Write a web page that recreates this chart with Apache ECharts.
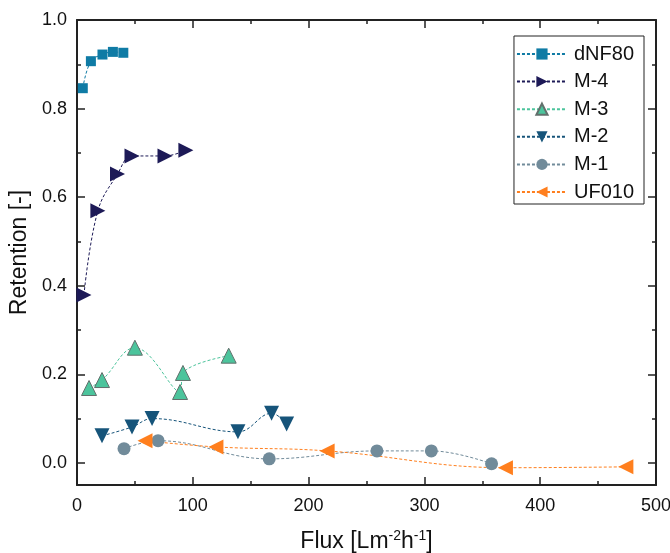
<!DOCTYPE html>
<html>
<head>
<meta charset="utf-8">
<script src="https://cdn.jsdelivr.net/npm/echarts@6/dist/echarts.min.js"></script>
<style>
  html, body { margin: 0; padding: 0; background: #fff; }
  #chart { width: 670px; height: 553px; }
</style>
</head>
<body>
<div id="chart"></div>
<script>
// 数据：[通量, 截留率]
var dNF80 = [[5, 0.846], [12, 0.907], [22, 0.922], [31, 0.928], [40, 0.926]];
var M4 = [[6, 0.379], [18, 0.569], [35, 0.652], [47.5, 0.693], [76, 0.693], [94, 0.706]];
var M3 = [[10.4, 0.169], [21.6, 0.187], [50, 0.260], [89, 0.160], [91.5, 0.203], [131, 0.242]];
var M2 = [[21.6, 0.061], [47.5, 0.081], [64.8, 0.100], [139, 0.070], [168, 0.112], [181, 0.088]];
var M1 = [[40.6, 0.032], [70, 0.050], [166, 0.009], [259, 0.027], [306, 0.027], [358, -0.002]];
var UF010 = [[58.7, 0.050], [120, 0.036], [216, 0.027], [370, -0.011], [474, -0.009]];

var yMajor = [0, 0.2, 0.4, 0.6, 0.8, 1.0];
var yMinor = [0.1, 0.3, 0.5, 0.7, 0.9];

var chart = echarts.init(document.getElementById('chart'));

var font = 'Liberation Sans, Arial, sans-serif';
var axisColor = '#222';

function lineSeries(name, data, color, symbol, size, rotate, border) {
    return {
        name: name,
        type: 'line',
        data: data,
        smooth: 0.4,
        symbol: symbol,
        symbolSize: size,
        symbolRotate: rotate,
        clip: false,
        lineStyle: { color: color, width: 1, type: [3, 2] },
        itemStyle: {
            color: color,
            borderColor: border || color,
            borderWidth: border ? 1 : 0
        },
        z: 3
    };
}

function yAxisDef(pos, ticks, len, showLabel, showLine) {
    return {
        type: 'value',
        position: pos,
        min: -0.05,
        max: 1.0,
        axisLine: { show: showLine, onZero: false, lineStyle: { color: axisColor, width: 2 } },
        axisTick: { show: true, inside: true, length: len, customValues: ticks,
                    lineStyle: { color: axisColor, width: 1.5 } },
        axisLabel: { show: showLabel, customValues: ticks, margin: 10,
                     fontSize: 18, color: '#111', fontFamily: font,
                     formatter: function (v) { return v.toFixed(1); } },
        splitLine: { show: false }
    };
}

var option = {
    animation: false,
    backgroundColor: '#fff',
    grid: { left: 77, right: 14, top: 20, bottom: 68, outerBoundsMode: 'none' },
    legend: {
        orient: 'vertical',
        right: 26,
        top: 36,
        padding: [8, 10, 2, 2],
        itemWidth: 50,
        itemHeight: 14,
        itemGap: 7.6,
        borderColor: '#222',
        borderWidth: 1,
        textStyle: { fontSize: 20, color: '#111', fontFamily: font, padding: [0, 0, 0, 2] },
        data: ['dNF80', 'M-4', 'M-3', 'M-2', 'M-1', 'UF010']
    },
    xAxis: [{
        type: 'value',
        position: 'bottom',
        min: 0,
        max: 500,
        interval: 100,
        name: 'Flux [Lm{sup|-2}h{sup|-1}]',
        nameLocation: 'middle',
        nameGap: 44,
        nameTextStyle: {
            fontSize: 23, color: '#111', fontFamily: font, lineHeight: 26,
            rich: { sup: { fontSize: 14, color: '#111', fontFamily: font, verticalAlign: 'top', lineHeight: 14 } }
        },
        axisLine: { onZero: false, lineStyle: { color: axisColor, width: 2 } },
        axisTick: { inside: true, length: 8, lineStyle: { color: axisColor, width: 1.5 } },
        minorTick: { show: true, splitNumber: 2, length: 4, lineStyle: { color: axisColor, width: 1.5 } },
        axisLabel: { margin: 12, fontSize: 18, color: '#111', fontFamily: font },
        splitLine: { show: false }
    }, {
        type: 'value',
        position: 'top',
        min: 0,
        max: 500,
        interval: 100,
        axisLine: { onZero: false, lineStyle: { color: axisColor, width: 2 } },
        axisTick: { inside: true, length: 8, lineStyle: { color: axisColor, width: 1.5 } },
        minorTick: { show: true, splitNumber: 2, length: 4, lineStyle: { color: axisColor, width: 1.5 } },
        axisLabel: { show: false },
        splitLine: { show: false }
    }],
    yAxis: [
        Object.assign(yAxisDef('left', yMajor, 8, true, true), {
            name: 'Retention [-]',
            nameLocation: 'middle',
            nameGap: 37,
            nameTextStyle: { fontSize: 23, color: '#111', fontFamily: font }
        }),
        yAxisDef('left', yMinor, 4, false, false),
        yAxisDef('right', yMajor, 8, false, true),
        yAxisDef('right', yMinor, 4, false, false)
    ],
    series: [
        lineSeries('dNF80', dNF80, '#0f7ba5', 'rect', 10, 0),
        lineSeries('M-4', M4, '#1d1a57', 'triangle', 15, -90),
        lineSeries('M-3', M3, '#4cc49c', 'triangle', 15, 0, '#62706c'),
        lineSeries('M-2', M2, '#16547a', 'triangle', 15, 180),
        lineSeries('M-1', M1, '#718b9a', 'circle', 13, 0),
        lineSeries('UF010', UF010, '#ff7f1e', 'triangle', 15, 90)
    ]
};

chart.setOption(option);
</script>
</body>
</html>
